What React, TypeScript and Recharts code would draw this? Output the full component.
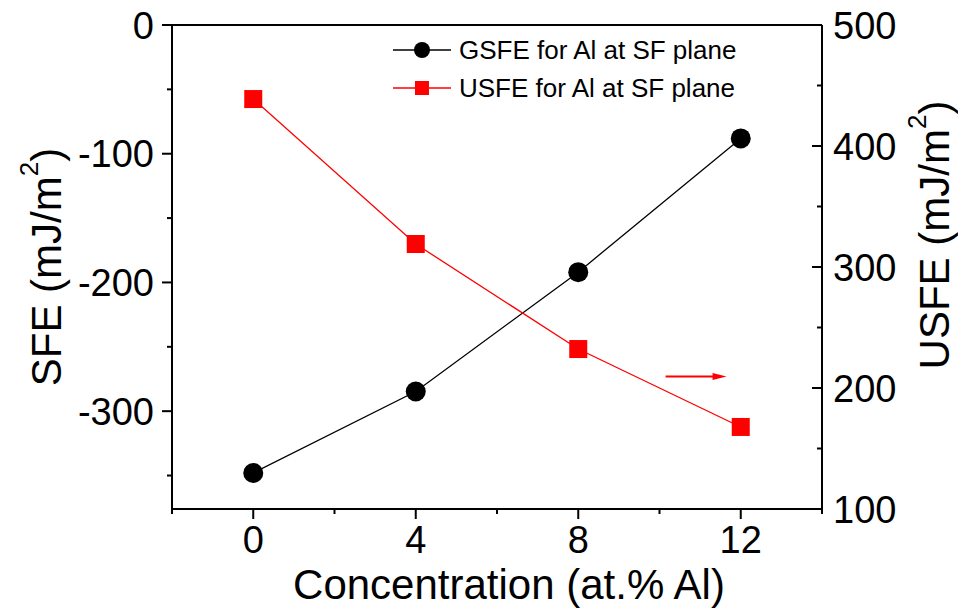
import React from 'react';
import { LineChart, Line, XAxis, YAxis, Legend, ReferenceLine } from 'recharts';

const concentrations = [0, 4, 8, 12];
const gsfeValues = [-348, -284.7, -192, -88.1];
const usfeValues = [438.8, 319, 232.2, 167.8];

const xAllTicks = [-2, 0, 2, 4, 6, 8, 10, 12, 14];
const xMajorTicks = [0, 4, 8, 12];
const leftAllTicks = [-350, -300, -250, -200, -150, -100, -50, 0];
const leftMajorTicks = [-300, -200, -100, 0];
const rightAllTicks = [100, 150, 200, 250, 300, 350, 400, 450, 500];
const rightMajorTicks = [100, 200, 300, 400, 500];

const seriesNames = {
  gsfe: 'GSFE for Al at SF plane',
  usfe: 'USFE for Al at SF plane',
};

const data = concentrations.map((c, i) => ({ c, gsfe: gsfeValues[i], usfe: usfeValues[i] }));

const FONT = '"Liberation Sans", Arial, sans-serif';
const TICK_FS = 38;
const TITLE_FS = 42;
const SUP_FS = 26;

const BottomTick = (props: any) => {
  const { x, y, payload } = props;
  const major = xMajorTicks.includes(payload.value);
  return (
    <g>
      <line x1={x} y1={y} x2={x} y2={y + (major ? 10 : 5)} stroke="#000" strokeWidth={2} />
      {major && (
        <text x={x} y={y + 44} textAnchor="middle" fontSize={TICK_FS} fontFamily={FONT} fill="#000">
          {payload.value}
        </text>
      )}
    </g>
  );
};

const LeftTick = (props: any) => {
  const { x, y, payload } = props;
  const major = leftMajorTicks.includes(payload.value);
  return (
    <g>
      <line x1={x} y1={y} x2={x - (major ? 10 : 5)} y2={y} stroke="#000" strokeWidth={2} />
      {major && (
        <text x={x - 18} y={y + 13.5} textAnchor="end" fontSize={TICK_FS} fontFamily={FONT} fill="#000">
          {payload.value}
        </text>
      )}
    </g>
  );
};

const RightTick = (props: any) => {
  const { x, y, payload } = props;
  const major = rightMajorTicks.includes(payload.value);
  return (
    <g>
      <line x1={x} y1={y} x2={x - (major ? 10 : 5)} y2={y} stroke="#000" strokeWidth={2} />
      {major && (
        <text x={x + 11} y={y + 13.5} textAnchor="start" fontSize={TICK_FS} fontFamily={FONT} fill="#000">
          {payload.value}
        </text>
      )}
    </g>
  );
};

const VerticalTitle = ({ cx, cy, main }: any) => (
  <text
    x={cx}
    y={cy}
    transform={`rotate(-90, ${cx}, ${cy})`}
    textAnchor="middle"
    dominantBaseline="central"
    fontSize={TITLE_FS}
    fontFamily={FONT}
    fill="#000"
  >
    <tspan>{main} (mJ/m</tspan>
    <tspan fontSize={SUP_FS} dy={-17}>2</tspan>
    <tspan dy={17}>)</tspan>
  </text>
);

const LeftTitle = (props: any) => {
  const vb = props.viewBox;
  return <VerticalTitle cx={vb.x + 46} cy={vb.y + vb.height / 2} main="SFE" />;
};

const RightTitle = (props: any) => {
  const vb = props.viewBox;
  return <VerticalTitle cx={vb.x + 112} cy={vb.y + vb.height / 2 - 32} main="USFE" />;
};

const BottomTitle = (props: any) => {
  const vb = props.viewBox;
  const cx = vb.x + vb.width / 2 + 12;
  return (
    <text x={cx} y={vb.y + 90} textAnchor="middle" fontSize={TITLE_FS} fontFamily={FONT} fill="#000">
      Concentration (at.% Al)
    </text>
  );
};

const CircleDot = (props: any) => {
  const { cx, cy, index } = props;
  if (cx == null || cy == null) return null;
  return <circle key={`c${index}`} cx={cx} cy={cy} r={10} fill="#000" />;
};

const SquareDot = (props: any) => {
  const { cx, cy, index } = props;
  if (cx == null || cy == null) return null;
  return <rect key={`s${index}`} x={cx - 9} y={cy - 9} width={18} height={18} fill="#ff0000" />;
};

const ArrowShape = (props: any) => {
  const { x1, y1, x2, y2 } = props;
  return (
    <g>
      <line x1={x1} y1={y1} x2={x2 - 6} y2={y2} stroke="#ff0000" strokeWidth={2} />
      <polygon points={`${x2},${y2} ${x2 - 14},${y2 - 3.5} ${x2 - 14},${y2 + 3.5}`} fill="#ff0000" />
    </g>
  );
};

const LegendContent = (props: any) => {
  const items = props.payload || [];
  return (
    <div style={{ fontFamily: FONT }}>
      {items.map((it: any) => {
        const key = it.dataKey;
        const color = it.color;
        return (
          <div key={key} style={{ display: 'flex', alignItems: 'center', height: 38 }}>
            <svg width={70} height={38}>
              <line x1={8} y1={19} x2={66} y2={19} stroke={color} strokeWidth={1.5} />
              {key === 'gsfe' ? (
                <circle cx={37} cy={19} r={8} fill={color} />
              ) : (
                <rect x={30} y={12} width={14} height={14} fill={color} />
              )}
            </svg>
            <span style={{ fontSize: 26, color: '#000', marginLeft: 4, whiteSpace: 'nowrap' }}>{it.value}</span>
          </div>
        );
      })}
    </div>
  );
};

export default function App() {
  return (
    <div style={{ position: 'absolute', left: 0, top: 0, width: 958, height: 616, background: '#fff' }}>
      <LineChart width={958} height={616} data={data} margin={{ top: 25, right: 0, bottom: 0, left: 0 }}>
        <XAxis
          dataKey="c"
          type="number"
          domain={[-2, 14]}
          ticks={xAllTicks}
          interval={0}
          height={107}
          tickSize={0}
          tickMargin={0}
          tickLine={false}
          axisLine={{ stroke: '#000', strokeWidth: 2 }}
          tick={<BottomTick />}
          label={<BottomTitle />}
          allowDataOverflow
        />
        <YAxis
          yAxisId="left"
          orientation="left"
          type="number"
          domain={[-376, 0]}
          ticks={leftAllTicks}
          interval={0}
          width={172}
          tickSize={0}
          tickMargin={0}
          tickLine={false}
          axisLine={{ stroke: '#000', strokeWidth: 2 }}
          tick={<LeftTick />}
          label={<LeftTitle />}
          allowDataOverflow
        />
        <YAxis
          yAxisId="right"
          orientation="right"
          type="number"
          domain={[100, 500]}
          ticks={rightAllTicks}
          interval={0}
          width={136}
          tickSize={0}
          tickMargin={0}
          tickLine={false}
          axisLine={{ stroke: '#000', strokeWidth: 2 }}
          tick={<RightTick />}
          label={<RightTitle />}
          allowDataOverflow
        />
        <ReferenceLine yAxisId="left" y={0} stroke="#000" strokeWidth={2} ifOverflow="visible" />
        <ReferenceLine
          yAxisId="right"
          segment={[{ x: 10.15, y: 209.5 }, { x: 11.65, y: 209.5 }]}
          stroke="#ff0000"
          shape={ArrowShape}
          ifOverflow="visible"
        />
        <Line
          yAxisId="left"
          dataKey="gsfe"
          name={seriesNames.gsfe}
          stroke="#000"
          strokeWidth={1.3}
          dot={CircleDot}
          activeDot={false}
          isAnimationActive={false}
        />
        <Line
          yAxisId="right"
          dataKey="usfe"
          name={seriesNames.usfe}
          stroke="#ff0000"
          strokeWidth={1.3}
          dot={SquareDot}
          activeDot={false}
          isAnimationActive={false}
        />
        <Legend
          layout="vertical"
          align="center"
          verticalAlign="middle"
          wrapperStyle={{ left: 385, top: 31, width: 420 }}
          content={<LegendContent />}
        />
      </LineChart>
    </div>
  );
}
